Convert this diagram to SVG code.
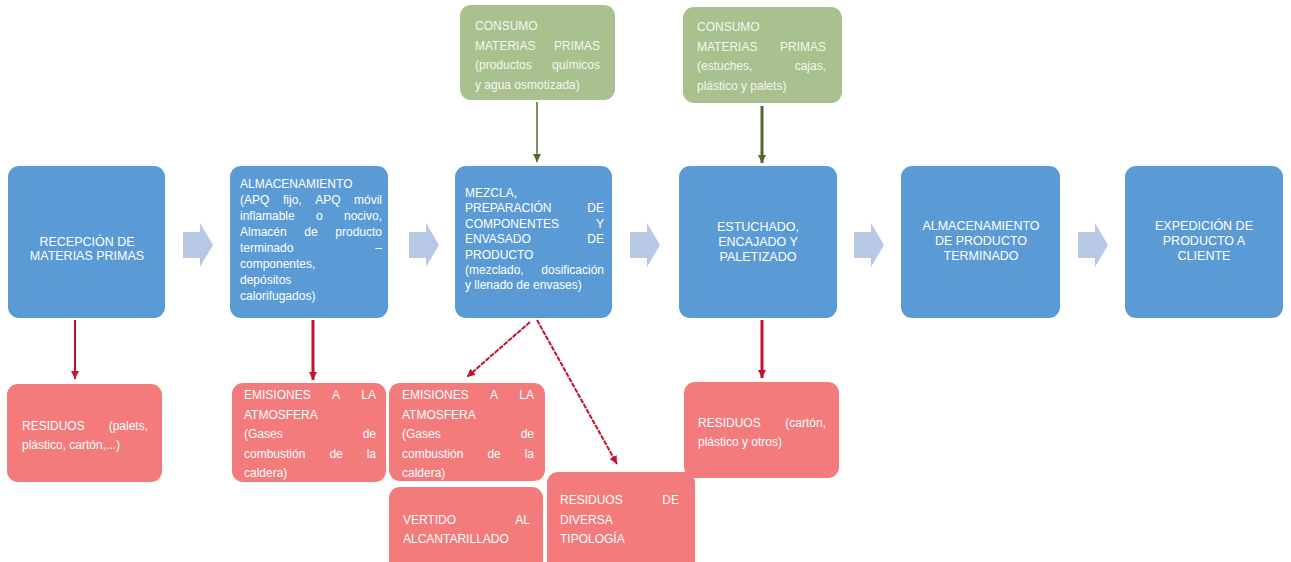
<svg xmlns="http://www.w3.org/2000/svg" xmlns:xlink="http://www.w3.org/1999/xlink" width="1291" height="562" viewBox="0 0 1291 562">
<style>
.blue{fill:#5B9BD5;}
.green{fill:#A9C08F;}
.red{fill:#F37B7B;}
.chev{fill:#B7C8E4;}
text{font-family:"Liberation Sans",Arial,sans-serif;font-size:12px;fill:#FFFFFF;}
.g text{fill:#F4F7EE;}
.c{text-anchor:middle;font-size:12.5px;}
.e{text-anchor:end;}
.rl{stroke:#C5102E;fill:none;}
.gl{stroke:#4F6A2C;fill:none;}
</style>
<defs>
<marker id="ar" markerUnits="userSpaceOnUse" markerWidth="10" markerHeight="10" refX="8" refY="4" orient="auto"><path d="M0,0 L8,4 L0,8 Z" fill="#C5102E"/></marker>
<marker id="ag" markerUnits="userSpaceOnUse" markerWidth="10" markerHeight="10" refX="8" refY="4" orient="auto"><path d="M0,0 L8,4 L0,8 Z" fill="#4F6A2C"/></marker>
<path id="chev" d="M0,-13 H17 V-22 L30,0 L17,22 V13 H0 Z"/>
</defs>
<rect width="1291" height="562" fill="#FFFFFF"/>

<g id="connectors">
<use xlink:href="#chev" class="chev" transform="translate(183,245)"/>
<use xlink:href="#chev" class="chev" transform="translate(409,245)"/>
<use xlink:href="#chev" class="chev" transform="translate(630,245)"/>
<use xlink:href="#chev" class="chev" transform="translate(854,245)"/>
<use xlink:href="#chev" class="chev" transform="translate(1078,245)"/>
<line class="gl" x1="537" y1="102" x2="537" y2="162" stroke-width="1.5" marker-end="url(#ag)"/>
<line class="gl" x1="762" y1="106" x2="762" y2="163" stroke-width="3" marker-end="url(#ag)"/>
<line class="rl" x1="75" y1="320" x2="75" y2="379" stroke-width="2" marker-end="url(#ar)"/>
<line class="rl" x1="313" y1="320" x2="313" y2="380" stroke-width="3" marker-end="url(#ar)"/>
<line class="rl" x1="530" y1="322" x2="467" y2="377" stroke-width="2" stroke-dasharray="5 1" marker-end="url(#ar)"/>
<line class="rl" x1="537" y1="320" x2="617" y2="464" stroke-width="2" stroke-dasharray="5 1" marker-end="url(#ar)"/>
<line class="rl" x1="762" y1="320" x2="762" y2="378" stroke-width="3" marker-end="url(#ar)"/>
</g>

<g id="recepcion">
<rect class="blue" x="8" y="166" width="157" height="152" rx="11"/>
<text class="c" x="87" y="246">RECEPCIÓN DE</text>
<text class="c" x="87" y="260">MATERIAS PRIMAS</text>
</g>

<g id="almacenamiento">
<rect class="blue" x="230" y="166" width="158" height="152" rx="11"/>
<text x="240" y="188">ALMACENAMIENTO</text>
<text y="204"><tspan x="240">(APQ</tspan><tspan x="283">fijo,</tspan><tspan x="315.2">APQ</tspan><tspan x="354">móvil</tspan></text>
<text y="220"><tspan x="240">inflamable</tspan><tspan x="316">o</tspan><tspan x="344">nocivo,</tspan></text>
<text y="236"><tspan x="240">Almacén</tspan><tspan x="304.3">de</tspan><tspan x="335.3">producto</tspan></text>
<text y="252"><tspan x="240">terminado</tspan></text>
<text class="e" x="382" y="252">–</text>
<text x="240" y="268">componentes,</text>
<text x="240" y="284">depósitos</text>
<text x="240" y="300">calorifugados)</text>
</g>

<g id="mezcla">
<rect class="blue" x="455" y="166" width="157" height="152" rx="11"/>
<text x="465" y="197">MEZCLA,</text>
<text x="465" y="212.4">PREPARACIÓN</text><text class="e" x="604" y="212.4">DE</text>
<text x="465" y="227.8">COMPONENTES</text><text class="e" x="604" y="227.8">Y</text>
<text x="465" y="243.2">ENVASADO</text><text class="e" x="604" y="243.2">DE</text>
<text x="465" y="258.6">PRODUCTO</text>
<text x="465" y="274">(mezclado,</text><text class="e" x="604" y="274">dosificación</text>
<text x="465" y="289.4">y llenado de envases)</text>
</g>

<g id="estuchado">
<rect class="blue" x="679" y="166" width="158" height="152" rx="11"/>
<text class="c" x="758" y="231">ESTUCHADO,</text>
<text class="c" x="758" y="246">ENCAJADO Y</text>
<text class="c" x="758" y="261">PALETIZADO</text>
</g>

<g id="almacen-producto">
<rect class="blue" x="901" y="166" width="159" height="152" rx="11"/>
<text class="c" x="981" y="230">ALMACENAMIENTO</text>
<text class="c" x="981" y="245">DE PRODUCTO</text>
<text class="c" x="981" y="260">TERMINADO</text>
</g>

<g id="expedicion">
<rect class="blue" x="1125" y="166" width="158" height="152" rx="11"/>
<text class="c" x="1204" y="230">EXPEDICIÓN DE</text>
<text class="c" x="1204" y="245">PRODUCTO A</text>
<text class="c" x="1204" y="260">CLIENTE</text>
</g>

<g id="consumo1" class="g">
<rect class="green" x="460" y="5" width="155" height="95" rx="11"/>
<text x="475" y="30">CONSUMO</text>
<text x="475" y="49.5">MATERIAS</text><text class="e" x="600" y="49.5">PRIMAS</text>
<text x="475" y="69">(productos</text><text class="e" x="600" y="69">químicos</text>
<text x="475" y="88.5">y agua osmotizada)</text>
</g>

<g id="consumo2" class="g">
<rect class="green" x="683" y="7" width="159" height="96" rx="11"/>
<text x="697" y="31">CONSUMO</text>
<text x="697" y="50.5">MATERIAS</text><text class="e" x="826" y="50.5">PRIMAS</text>
<text x="697" y="70">(estuches,</text><text class="e" x="826" y="70">cajas,</text>
<text x="697" y="89.5">plástico y palets)</text>
</g>

<g id="residuos1">
<rect class="red" x="7" y="384" width="155" height="98" rx="11"/>
<text x="22" y="430">RESIDUOS</text><text class="e" x="148" y="430">(palets,</text>
<text x="22" y="449">plástico, cartón,...)</text>
</g>

<g id="emisiones1">
<rect class="red" x="232" y="383" width="154" height="99" rx="11"/>
<text y="399"><tspan x="244">EMISIONES</tspan><tspan x="332">A</tspan></text><text class="e" x="376" y="399">LA</text>
<text x="244" y="418.5">ATMOSFERA</text>
<text x="244" y="438">(Gases</text><text class="e" x="376" y="438">de</text>
<text y="457.5"><tspan x="244">combustión</tspan><tspan x="329.4">de</tspan></text><text class="e" x="376" y="457.5">la</text>
<text x="244" y="477">caldera)</text>
</g>

<g id="emisiones2">
<rect class="red" x="389" y="383" width="156" height="98" rx="11"/>
<text y="399"><tspan x="402">EMISIONES</tspan><tspan x="490">A</tspan></text><text class="e" x="534" y="399">LA</text>
<text x="402" y="418.5">ATMOSFERA</text>
<text x="402" y="438">(Gases</text><text class="e" x="534" y="438">de</text>
<text y="457.5"><tspan x="402">combustión</tspan><tspan x="487.4">de</tspan></text><text class="e" x="534" y="457.5">la</text>
<text x="402" y="477">caldera)</text>
</g>

<g id="vertido">
<rect class="red" x="389" y="487" width="154" height="90" rx="11"/>
<text x="403" y="524">VERTIDO</text><text class="e" x="530" y="524">AL</text>
<text x="403" y="543">ALCANTARILLADO</text>
</g>

<g id="residuos-diversa">
<rect class="red" x="547" y="472" width="148" height="105" rx="11"/>
<text x="560" y="504">RESIDUOS</text><text class="e" x="679" y="504">DE</text>
<text x="560" y="523.5">DIVERSA</text>
<text x="560" y="543">TIPOLOGÍA</text>
</g>

<g id="residuos2">
<rect class="red" x="684" y="382" width="155" height="96" rx="11"/>
<text x="698" y="427">RESIDUOS</text><text class="e" x="826" y="427">(cartón,</text>
<text x="698" y="446">plástico y otros)</text>
</g>
</svg>
